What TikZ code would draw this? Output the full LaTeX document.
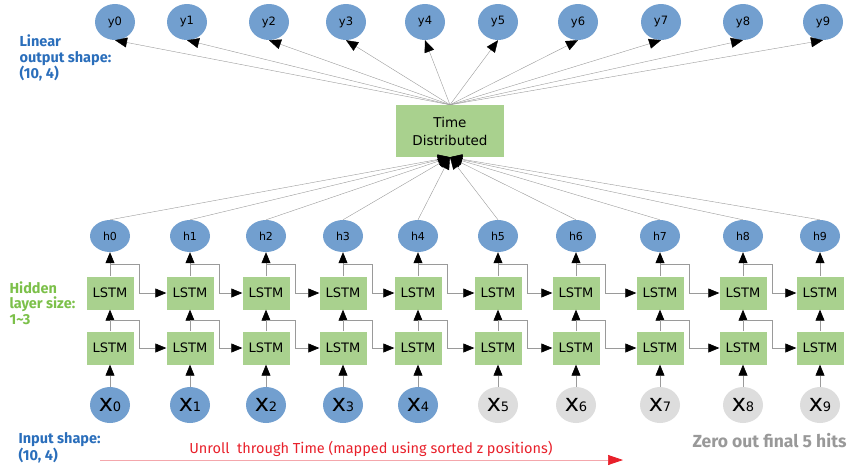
\documentclass[tikz,border=0pt]{standalone}
\usepackage{fontspec}
\setmainfont{DejaVu Sans}
\newfontfamily\labelfont{Fira Sans}
\usepackage{xcolor}
\definecolor{rnnblue}{HTML}{729FCF}
\definecolor{rnngrey}{HTML}{DDDDDD}
\definecolor{rnngreen}{HTML}{A9D18E}
\definecolor{rnnline}{HTML}{9A9A9A}
\definecolor{rnnlabelblue}{HTML}{2A6EBB}
\definecolor{rnnlabelgreen}{HTML}{7CC04A}
\definecolor{rnnred}{HTML}{E8202A}
\definecolor{rnnpink}{HTML}{F4A7AC}
\usepackage{tikz}
\usetikzlibrary{shapes.geometric, arrows.meta, positioning, calc}

\tikzset{
  unit/.style={ellipse, fill=rnnblue, minimum width=40pt, minimum height=34pt,
               inner sep=0pt, font=\fontsize{11}{11}\selectfont},
  cell/.style={rectangle, fill=rnngreen, minimum width=47pt, minimum height=33pt,
               inner sep=0pt, font=\fontsize{13}{13}\selectfont},
  feed/.style={draw=rnnline, line width=0.6pt, -{Triangle[length=11pt,width=9pt,black]}},
  fan/.style={draw=rnnline, line width=0.4pt, -{Triangle[length=12pt,width=10pt,black]}},
  sidelabel/.style={anchor=west, align=left, font=\labelfont\bfseries\fontsize{14.5}{15.5}\selectfont}
}

\begin{document}
\begin{tikzpicture}[x=1pt, y=-1pt]
\useasboundingbox (0,0) rectangle (852,469);

% time distributed layer
\node[cell, minimum width=108pt, minimum height=52pt, align=center,
      font=\fontsize{13.5}{18}\selectfont] (td) at (450,131) {Time\\Distributed};

% outputs
\foreach \i/\cx in {0/115,1/187,2/269,3/346,4/425,5/498,6/578,7/661,8/743,9/823} {
  \node[unit, minimum height=36pt, font=\fontsize{11.5}{11.5}\selectfont] (y\i) at (\cx,22) {y\i};
  \draw[fan] (td.north) -- (y\i.south);
}

% unrolled columns
\foreach \i/\cx in {0/110,1/190,2/266,3/343,4/418,5/498,6/576,7/660,8/743,9/820} {
  \node[unit, minimum height=32pt] (h\i) at (\cx,236) {h\i};
  \node[cell] (top\i) at (\cx,293) {LSTM};
  \node[cell] (bot\i) at (\cx,348) {LSTM};
  \ifnum\i<5
    \node[unit, minimum height=36pt] (x\i) at (\cx,405)
      {{\fontsize{24}{24}\selectfont x}{\fontsize{13}{13}\selectfont\i}};
  \else
    \node[unit, fill=rnngrey, minimum height=36pt] (x\i) at (\cx,405)
      {{\fontsize{24}{24}\selectfont x}{\fontsize{13}{13}\selectfont\i}};
  \fi
  \draw[feed] (x\i.north) -- (bot\i.south);
  \draw[feed] (bot\i.north) -- (top\i.south);
  \draw[feed] (top\i.north) -- (h\i.south);
  \draw[fan] (h\i.north) -- (td.south);
}

% recurrent links
\foreach \i in {0,...,8} {
  \pgfmathtruncatemacro\j{\i+1}
  \draw[feed] ($(top\i.north)!.5!(h\i.south)$) -| ([xshift=6pt]top\i.east) -- (top\j.west);
  \draw[feed] ($(bot\i.north)!.5!(top\i.south)$) -| ([xshift=6pt]bot\i.east) -- (bot\j.west);
}

% labels
\node[sidelabel, text=rnnlabelblue] (outlabel) at (16,58) {Linear\\output shape:\\(10, 4)};
\node[sidelabel, text=rnnlabelgreen] (hidlabel) at (6,303) {Hidden\\layer size:\\1\textasciitilde3};
\node[sidelabel, text=rnnlabelblue] (inlabel) at (15,448) {Input shape:\\(10, 4)};
\node[anchor=east, text=black!40, font=\labelfont\bfseries\fontsize{17.5}{17.5}\selectfont]
  (zerolabel) at (850,441) {Zero out final 5 hits};

% time axis
\coordinate (unrollstart) at (100,460);
\coordinate (unrollend) at (623,460);
\draw[draw=rnnpink, line width=0.7pt, -{Triangle[length=15pt,width=10pt,rnnred]}]
  (unrollstart) -- (unrollend);
\node[text=rnnred, font=\labelfont\fontsize{14.5}{14.5}\selectfont] (unrolllabel) at (371,449)
  {Unroll\ \ through Time (mapped using sorted z positions)};
\end{tikzpicture}
\end{document}
